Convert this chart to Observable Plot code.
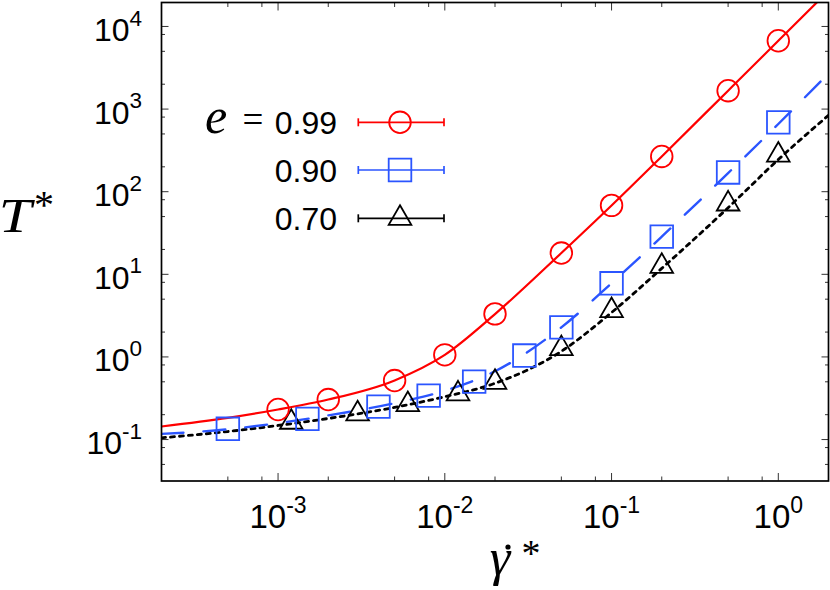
<!DOCTYPE html>
<html>
<head>
<meta charset="utf-8">
<script src="https://cdn.jsdelivr.net/npm/d3@7"></script>
<script src="https://cdn.jsdelivr.net/npm/@observablehq/plot@0.6"></script>
<style>
html,body{margin:0;padding:0;background:#fff;}
#chart svg{display:block;}
</style>
</head>
<body>
<div id="chart"></div>
<script>
// ---------------- data ----------------
const seriesLabels = ["0.99", "0.90", "0.70"];
const seriesColors = ["#ff0000", "#2b55ff", "#000000"];

// simulation points (shear rate, temperature)
const rate99 = [1e-3, 2e-3, 5e-3, 1e-2, 2e-2, 5e-2, 0.1, 0.2, 0.5, 1];
const temp99 = [0.231, 0.305, 0.518, 1.06, 3.32, 18.1, 68.3, 267, 1668, 6714];
const rate90 = [5e-4, 1.5e-3, 4e-3, 8e-3, 1.5e-2, 3e-2, 5e-2, 0.1, 0.2, 0.5, 1];
const temp90 = [0.135, 0.178, 0.250, 0.340, 0.503, 1.04, 2.28, 7.78, 28.6, 171, 690];
const rate70 = [1.2e-3, 3e-3, 6e-3, 1.2e-2, 2e-2, 5e-2, 0.1, 0.2, 0.5, 1];
const temp70 = [0.162, 0.205, 0.265, 0.357, 0.493, 1.26, 3.64, 12.5, 71, 278];

// theory curves, read at these shear rates
const fitRate = [2e-4, 5e-4, 1e-3, 2e-3, 5e-3, 1e-2, 2e-2, 5e-2, 0.1, 0.2, 0.5, 1, 2];
const fit99 = [0.144, 0.183, 0.231, 0.305, 0.52, 1.06, 3.3, 18.1, 68, 267, 1670, 6700, 27000];
const fit90 = [0.117, 0.133, 0.158, 0.196, 0.276, 0.39, 0.67, 2.28, 7.8, 28.6, 168, 660, 2700];
const fit70 = [0.105, 0.125, 0.148, 0.18, 0.245, 0.33, 0.48, 1.17, 3.45, 11.8, 64, 245, 840];

// axis ticks
const xTickValues = [1e-3, 1e-2, 1e-1, 1];
const xTickLabels = ["10^-3", "10^-2", "10^-1", "10^0"];
const xMinorTicks = [5e-4, 8e-4, 2e-3, 5e-3, 8e-3, 2e-2, 5e-2, 8e-2, 0.2, 0.5, 0.8];
const yTickValues = [0.1, 1, 10, 100, 1000, 10000];
const yTickLabels = ["10^-1", "10^0", "10^1", "10^2", "10^3", "10^4"];
const yMinorTicks = [0.05, 0.08, 0.2, 0.5, 0.8, 2, 5, 8, 20, 50, 80, 200, 500, 800, 2000, 5000, 8000];

// ---------------- build rows ----------------
const toRows = (xs, ys) => xs.map((x, i) => ({x, y: ys[i]}));
const pts99 = toRows(rate99, temp99);
const pts90 = toRows(rate90, temp90);
const pts70 = toRows(rate70, temp70);
const line99 = toRows(fitRate, fit99);
const line90 = toRows(fitRate, fit90);
const line70 = toRows(fitRate, fit70);
const fmt = (vals, labels) => d => { const i = vals.indexOf(d); return i < 0 ? "" : labels[i]; };

const tick = {stroke: "#333", strokeWidth: 1, fill: "none", label: null};
const sans = "'Liberation Sans', Arial, Helvetica, sans-serif";
const serif = "'Liberation Serif', 'Times New Roman', serif";

const plot = Plot.plot({
  width: 830,
  height: 590,
  marginLeft: 161,
  marginRight: 2,
  marginTop: 2,
  marginBottom: 109.5,
  x: {type: "log", domain: [2e-4, 2]},
  y: {type: "log", domain: [0.0315, 19500]},
  style: {fontFamily: sans, background: "#fff", color: "#000"},
  marks: [
    Plot.axisX(xTickValues, {anchor: "bottom", tickSize: -7.5, ...tick}),
    Plot.axisX(xTickValues, {anchor: "top", tickSize: -7.5, ...tick}),
    Plot.axisX(xMinorTicks, {anchor: "bottom", tickSize: -4, ...tick}),
    Plot.axisX(xMinorTicks, {anchor: "top", tickSize: -4, ...tick}),
    Plot.axisY(yTickValues, {anchor: "left", tickSize: -7.5, ...tick}),
    Plot.axisY(yTickValues, {anchor: "right", tickSize: -7.5, ...tick}),
    Plot.axisY(yMinorTicks, {anchor: "left", tickSize: -4, ...tick}),
    Plot.axisY(yMinorTicks, {anchor: "right", tickSize: -4, ...tick}),
    Plot.axisX(xTickValues, {anchor: "bottom", tickSize: 0, tickPadding: 23.9, tickFormat: fmt(xTickValues, xTickLabels), fontSize: 33, fill: "#000", label: null}),
    Plot.axisY(yTickValues, {anchor: "left", tickSize: 0, tickPadding: 19.5, tickFormat: fmt(yTickValues, yTickLabels), fontSize: 32, dy: 4.3, fill: "#000", label: null}),
    Plot.line(line70, {x: "x", y: "y", stroke: seriesColors[2], strokeWidth: 2.8, strokeDasharray: "4,5", curve: "monotone-x", clip: true}),
    Plot.line(line90, {x: "x", y: "y", stroke: seriesColors[1], strokeWidth: 2.4, strokeDasharray: "22,20", curve: "monotone-x", clip: true}),
    Plot.line(line99, {x: "x", y: "y", stroke: seriesColors[0], strokeWidth: 2.2, curve: "monotone-x", clip: true}),
    Plot.dot(pts70, {x: "x", y: "y", symbol: "triangle", r: 8.4, stroke: seriesColors[2], strokeWidth: 1.8, fill: "none"}),
    Plot.dot(pts90, {x: "x", y: "y", symbol: "square", r: 12.75, stroke: seriesColors[1], strokeWidth: 1.8, fill: "none"}),
    Plot.dot(pts99, {x: "x", y: "y", symbol: "circle", r: 10.8, stroke: seriesColors[0], strokeWidth: 1.8, fill: "none"}),
    Plot.frame({stroke: "#000", strokeWidth: 1.7})
  ]
});

// superscript exponents in tick labels
function superscript(label, shift, size) {
  d3.select(plot).selectAll(`g[aria-label="${label}"] text`).each(function () {
    const parts = this.textContent.split("^");
    if (parts.length < 2) return;
    const t = d3.select(this);
    t.text(null);
    t.append("tspan").text(parts[0]);
    t.append("tspan").attr("dy", shift).attr("font-size", size).text(parts[1]);
  });
}
superscript("x-axis tick label", -15.5, 23);
superscript("y-axis tick label", -15.5, 22.5);

// legend and axis titles
const svg = d3.select(plot);
const lg = svg.append("g");
const rowY = [122.3, 170, 218.3];
const symbols = [d3.symbolCircle, d3.symbolSquare, d3.symbolTriangle];
const radii = [10.8, 12.75, 8.4];
rowY.forEach((yy, i) => {
  const c = seriesColors[i];
  lg.append("line").attr("x1", 358.3).attr("x2", 444).attr("y1", yy).attr("y2", yy)
    .attr("stroke", c).attr("stroke-width", 1.7);
  [358.3, 444].forEach(xx => lg.append("line").attr("x1", xx).attr("x2", xx)
    .attr("y1", yy - 4).attr("y2", yy + 4).attr("stroke", c).attr("stroke-width", 1.7));
  lg.append("path").attr("transform", `translate(400,${yy})`)
    .attr("d", d3.symbol(symbols[i], Math.PI * radii[i] * radii[i])())
    .attr("fill", "none").attr("stroke", c).attr("stroke-width", 1.8);
  lg.append("text").attr("x", 337).attr("y", yy + 11.5).attr("text-anchor", "end")
    .attr("font-family", sans).attr("font-size", 32).attr("fill", "#000").text(seriesLabels[i]);
});
lg.append("text").attr("x", 216).attr("y", rowY[0] + 10.5).attr("font-family", serif)
  .attr("font-style", "italic").attr("font-size", 50).attr("fill", "#000").text("e");
lg.append("text").attr("x", 253).attr("y", rowY[0] + 9.6).attr("text-anchor", "middle")
  .attr("font-family", serif).attr("font-size", 37).attr("fill", "#000").text("=");

// y title T*
svg.append("text").attr("transform", "translate(15,231.7) scale(1.2,1)").attr("font-family", serif)
  .attr("font-style", "italic").attr("font-size", 49).attr("fill", "#000").text("T");
svg.append("text").attr("x", 44).attr("y", 218.4).attr("font-family", serif)
  .attr("font-size", 40).attr("fill", "#000").text("*");
// x title gamma-dot*
svg.append("text").attr("x", 500).attr("y", 575).attr("font-family", serif)
  .attr("font-style", "italic").attr("font-size", 52).attr("fill", "#000").text("γ");
svg.append("circle").attr("cx", 508).attr("cy", 547).attr("r", 2.6).attr("fill", "#000");
svg.append("text").attr("x", 531).attr("y", 566).attr("font-family", serif)
  .attr("font-size", 38).attr("fill", "#000").text("*");

document.getElementById("chart").appendChild(plot);
</script>
</body>
</html>
